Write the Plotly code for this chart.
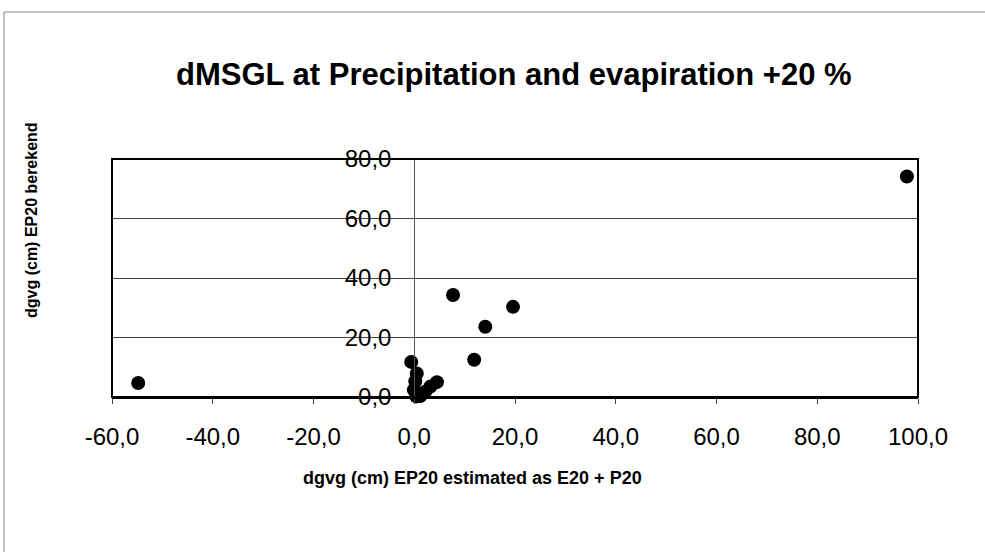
import plotly.graph_objects as go

# Data
x_est = [-54.8, 97.8, 7.7, 19.6, 14.1, 11.9, -0.6, 0.5, 0.2, -0.1, 0.4, 1.2, 0.9, 2.2, 3.2, 4.5]
y_ber = [4.7, 74.1, 34.3, 30.3, 23.6, 12.5, 11.8, 7.9, 5.2, 2.4, 0.2, 0.3, 0.8, 1.8, 3.5, 5.0]

x_ticks = [-60, -40, -20, 0, 20, 40, 60, 80, 100]
x_tick_labels = ["-60,0", "-40,0", "-20,0", "0,0", "20,0", "40,0", "60,0", "80,0", "100,0"]
y_ticks = [0, 20, 40, 60, 80]
y_tick_labels = ["0,0", "20,0", "40,0", "60,0", "80,0"]

title_text = "dMSGL at Precipitation and evapiration +20 %"
x_title = "dgvg (cm) EP20 estimated as E20 + P20"
y_title = "dgvg (cm) EP20 berekend"

W, H = 985, 552
L, R, T, B = 112, 67, 159, 155  # plot area margins
PW, PH = W - L - R, H - T - B

x_min, x_max = -60, 100
y_min, y_max = 0, 80
zero_pos = (0 - x_min) / (x_max - x_min)

fig = go.Figure()
fig.add_trace(go.Scatter(
    x=x_est, y=y_ber, mode="markers",
    marker=dict(color="black", size=14, line=dict(width=0)),
    showlegend=False, cliponaxis=False,
))

font = "Arial, Liberation Sans, sans-serif"

fig.update_layout(
    width=W, height=H,
    margin=dict(l=L, r=R, t=T, b=B, pad=0),
    paper_bgcolor="white", plot_bgcolor="white",
    font=dict(family=font, color="black", size=24),
    xaxis=dict(
        range=[x_min, x_max], tickvals=x_ticks, ticktext=x_tick_labels,
        showgrid=False, zeroline=False, showline=True, linecolor="black", linewidth=2,
        ticks="outside", ticklen=5, tickcolor="#444444", tickwidth=1,
        tickfont=dict(size=24), ticklabelstandoff=12,
    ),
    yaxis=dict(
        range=[y_min, y_max], tickvals=y_ticks, ticktext=y_tick_labels,
        anchor="free", position=zero_pos,
        showgrid=True, gridcolor="#444444", gridwidth=1,
        zeroline=False, showline=True, linecolor="#555555", linewidth=1,
        ticks="", tickfont=dict(size=24), ticklabelstandoff=18,
    ),
    shapes=[
        dict(type="rect", xref="paper", yref="paper", x0=0, x1=1, y0=0, y1=1,
             line=dict(color="black", width=2), layer="above"),
        dict(type="rect", xref="paper", yref="paper",
             x0=-(L - 4) / PW, x1=(W - L) / PW + 0.1,
             y0=-1, y1=1 + (T - 12) / PH,
             line=dict(color="#888888", width=1), layer="below"),
    ],
    annotations=[
        dict(text="<b>" + title_text + "</b>", xref="paper", yref="paper",
             x=(514 - L) / PW, y=1 + (T - 75) / PH,
             xanchor="center", yanchor="middle", showarrow=False,
             font=dict(size=31, family=font)),
        dict(text="<b>" + x_title + "</b>", xref="paper", yref="paper",
             x=(472 - L) / PW, y=-(478 - (H - B)) / PH,
             xanchor="center", yanchor="middle", showarrow=False,
             font=dict(size=18, family=font)),
        dict(text="<b>" + y_title + "</b>", xref="paper", yref="paper",
             x=-(L - 31) / PW, y=((H - B) - 220) / PH,
             xanchor="center", yanchor="middle", showarrow=False, textangle=-90,
             font=dict(size=16, family=font)),
    ],
)

fig.write_html("out.html")
